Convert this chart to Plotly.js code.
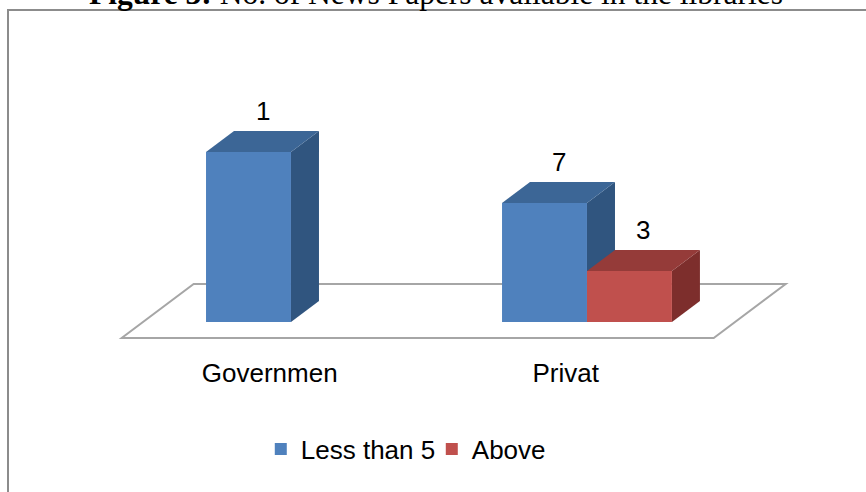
<!DOCTYPE html>
<html>
<head>
<meta charset="utf-8">
<script src="https://cdn.plot.ly/plotly-3.0.1.min.js"></script>
<style>html,body{margin:0;padding:0;background:#fff;}#chart{width:866px;height:492px;}</style>
</head>
<body>
<div id="chart"></div>
<script>
// ---- data ----
const categories = ["Governmen", "Privat"];
const seriesNames = ["Less than 5", "Above"];
const lessThan5 = [10, 7];
const above = [null, 3];
const lessLabels = ["1", "7"];
const aboveLabels = [null, "3"];

// ---- styling / geometry ----
const frontColors = ["#4F81BD", "#C0504D"];
const topColors = ["#3C6696", "#953B39"];
const sideColors = ["#30557F", "#7D2E2C"];
const bargap = 0.426;
const barW = (1 - bargap) / 2;
const DX = 0.0946;   // depth offset, x data units
const DY = 1.235;    // depth offset, y data units
const floorFront = -0.76, floorBack = 1.81; // in depth units
const xIdx = categories.map((c, i) => i);

const traces = [
  {type: "bar", name: seriesNames[0], x: xIdx, y: lessThan5,
   marker: {color: frontColors[0], line: {width: 0}}, hoverinfo: "none"},
  {type: "bar", name: seriesNames[1], x: xIdx, y: above,
   marker: {color: frontColors[1], line: {width: 0}}, hoverinfo: "none"}
];

function poly(pts) {
  return "M " + pts.map(p => p[0] + "," + p[1]).join(" L ") + " Z";
}

const shapes = [];
// floor
const n = categories.length;
shapes.push({
  type: "path", xref: "x", yref: "y", layer: "below",
  path: poly([
    [-0.5 + floorFront * DX, floorFront * DY],
    [n - 0.5 + floorFront * DX, floorFront * DY],
    [n - 0.5 + floorBack * DX, floorBack * DY],
    [-0.5 + floorBack * DX, floorBack * DY]
  ]),
  fillcolor: "#ffffff", line: {color: "#a6a6a6", width: 2}
});

const annotations = [];
const seriesVals = [lessThan5, above];
const seriesLabels = [lessLabels, aboveLabels];
xIdx.forEach(i => {
  seriesVals.forEach((vals, s) => {
    const h = vals[i];
    if (h === null || h === undefined) return;
    const xl = i - barW + s * barW, xr = xl + barW;
    // side face
    shapes.push({type: "path", xref: "x", yref: "y", layer: "below",
      path: poly([[xr, 0], [xr, h], [xr + DX, h + DY], [xr + DX, DY]]),
      fillcolor: sideColors[s], line: {width: 0}});
    // top face
    shapes.push({type: "path", xref: "x", yref: "y", layer: "below",
      path: poly([[xl, h], [xr, h], [xr + DX, h + DY], [xl + DX, h + DY]]),
      fillcolor: topColors[s], line: {width: 0}});
    const lab = seriesLabels[s][i];
    if (lab) {
      annotations.push({x: (xl + xr) / 2 + DX / 2, y: h + DY, xref: "x", yref: "y",
        text: lab, showarrow: false, yanchor: "bottom", yshift: 3,
        font: {family: "Liberation Sans, Arial, sans-serif", size: 26, color: "#000"}});
    }
  });
});

// frame lines
shapes.push({type: "path", xref: "paper", yref: "paper", layer: "above",
  path: "M 0.00924,0 L 0.00924,0.9797 L 1.01,0.9797",
  line: {color: "#8c8c8c", width: 2}});

// title (cut off at the top in the reference)
annotations.push({xref: "paper", yref: "paper", x: 0.503, y: 0.9736,
  xanchor: "center", yanchor: "bottom", showarrow: false,
  text: "<b>Figure 3:</b> No. of News Papers available in the libraries",
  font: {family: "Liberation Serif, Times New Roman, serif", size: 31.5, color: "#000"}});

const layout = {
  width: 866, height: 492,
  margin: {l: 0, r: 0, t: 0, b: 0},
  paper_bgcolor: "#ffffff", plot_bgcolor: "#ffffff",
  barmode: "group", bargap: bargap, bargroupgap: 0,
  showlegend: true,
  legend: {orientation: "h", x: 0.4986, xanchor: "center", y: 0.0874, yanchor: "middle",
    font: {family: "Liberation Sans, Arial, sans-serif", size: 26, color: "#000"},
    itemwidth: 30, entrywidth: 126, entrywidthmode: "pixels", bgcolor: "rgba(0,0,0,0)"},
  xaxis: {range: [-0.983, 1.9426], anchor: "free", position: 1 - 355 / 492,
    tickmode: "array", tickvals: xIdx.map(i => i + floorFront * DX),
    ticktext: categories, ticks: "", showline: false, showgrid: false, zeroline: false,
    tickfont: {family: "Liberation Sans, Arial, sans-serif", size: 26, color: "#000"},
    fixedrange: true},
  yaxis: {range: [-10.0, 18.94], visible: false, showgrid: false, zeroline: false, fixedrange: true},
  shapes: shapes,
  annotations: annotations
};

Plotly.newPlot("chart", traces, layout, {displayModeBar: false, staticPlot: true});
</script>
</body>
</html>
